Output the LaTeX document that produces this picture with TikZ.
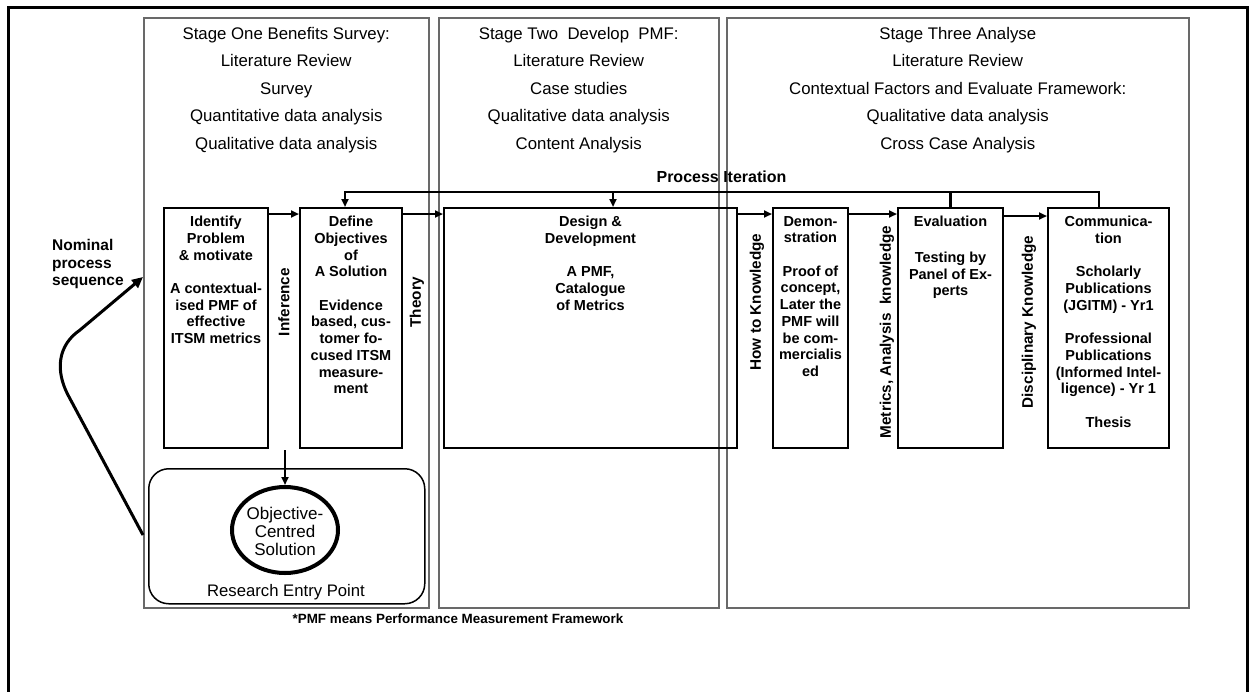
\documentclass[tikz,border=0pt]{standalone}
\usepackage{fontspec}
\setmainfont{Liberation Sans}
\usetikzlibrary{arrows.meta,shapes.geometric}
\definecolor{stagegrey}{RGB}{105,105,105}
\begin{document}
\begin{tikzpicture}[x=1pt,y=-1pt,
  stagebox/.style={draw=stagegrey, line width=1.5pt, inner sep=0pt, anchor=north west},
  procbox/.style={draw=black, line width=2pt, inner sep=0pt, anchor=north west, minimum height=240pt},
  boxtext/.style={font=\bfseries\fontsize{14.5}{16.7}\selectfont, align=center, anchor=north, inner sep=0pt},
  headtext/.style={font=\fontsize{16.8}{27.5}\selectfont, align=center, anchor=north, inner sep=0pt},
  sidelabel/.style={font=\bfseries\fontsize{15.3}{17}\selectfont, rotate=90, inner sep=0pt},
  flow/.style={-{Triangle[length=8pt,width=7pt]}, line width=2.2pt},
]
\useasboundingbox (0,0) rectangle (1250,691);
\fill[white] (0,0) rectangle (1250,691);
% outer frame (bottom edge lies outside the picture)
\draw[line width=3pt] (8,700) -- (8,7) -- (1247,7) -- (1247,700);

% stage boxes
\node[stagebox, minimum width=285pt, minimum height=590pt] (stage1) at (143,17) {};
\node[stagebox, minimum width=280pt, minimum height=590pt] (stage2) at (438,17) {};
\node[stagebox, minimum width=462pt, minimum height=590pt] (stage3) at (726,17) {};

\node[headtext] (stage1T) at ([yshift=-9.7pt]stage1.north) {Stage One Benefits Survey:\\Literature Review\\Survey\\Quantitative data analysis\\Qualitative data analysis};
\node[headtext] (stage2T) at ([yshift=-9.7pt]stage2.north) {Stage Two\ \ Develop\ \ PMF:\\Literature Review\\Case studies\\Qualitative data analysis\\Content Analysis};
\node[headtext] (stage3T) at ([yshift=-9.7pt]stage3.north) {Stage Three Analyse\\Literature Review\\Contextual Factors and Evaluate Framework:\\Qualitative data analysis\\Cross Case Analysis};

% process boxes
\node[procbox, minimum width=104pt] (ident) at (163,207) {};
\node[procbox, minimum width=102pt] (define) at (299,207) {};
\node[procbox, minimum width=293pt] (design) at (443,207) {};
\node[procbox, minimum width=75pt] (demo) at (772,207) {};
\node[procbox, minimum width=105pt] (eval) at (897,207) {};
\node[procbox, minimum width=121pt] (comm) at (1047,207) {};

\node[boxtext] (identT) at ([yshift=-9pt]ident.north) {Identify\\Problem\\\& motivate\\[16.7pt]A contextual-\\ised PMF of\\effective\\ITSM metrics};
\node[boxtext] (defineT) at ([yshift=-9pt]define.north) {Define\\Objectives\\of\\A Solution\\[16.7pt]Evidence\\based, cus-\\tomer fo-\\cused ITSM\\measure-\\ment};
\node[boxtext] (designT) at ([yshift=-9pt]design.north) {Design \&\\Development\\[16.7pt]A PMF,\\Catalogue\\of Metrics};
\node[boxtext] (demoT) at ([yshift=-9pt]demo.north) {Demon-\\stration\\[16.7pt]Proof of\\concept,\\Later the\\PMF will\\be com-\\mercialis\\ed};
\node[boxtext] (evalT) at ([yshift=-9pt]eval.north) {Evaluation\\[19pt]Testing by\\Panel of Ex-\\perts};
\node[boxtext] (commT) at ([yshift=-9pt]comm.north) {Communica-\\tion\\[16.7pt]Scholarly\\Publications\\(JGITM) - Yr1\\[16.7pt]Professional\\Publications\\(Informed Intel-\\ligence) - Yr 1\\[16.7pt]Thesis};

% side labels
\node[sidelabel] (infer) at (284,302) {Inference};
\node[sidelabel] (theory) at (417,302) {Theory};
\node[sidelabel] (howto) at (757,302) {How to Knowledge};
\node[sidelabel] (metrics) at (887,332) {Metrics, Analysis\ \ knowledge};
\node[sidelabel] (discip) at (1029,322) {Disciplinary Knowledge};

% flow arrows
\draw[flow] ([yshift=-7pt]ident.north east) -- ([yshift=-7pt]define.north west);
\draw[flow] ([yshift=-7pt]define.north east) -- ([yshift=-7pt]design.north west);
\draw[flow] ([yshift=-7pt]design.north east) -- ([yshift=-7pt]demo.north west);
\draw[flow] ([yshift=-7pt]demo.north east) -- ([yshift=-7pt]eval.north west);
\draw[flow] ([yshift=-9pt]eval.north east) -- ([yshift=-9pt]comm.north west);

% process iteration
\coordinate (iterTop) at (700,192);
\node[font=\bfseries\fontsize{16}{18}\selectfont, inner sep=0pt] (iterT) at (721.5,177) {Process Iteration};
\draw[flow] ([xshift=52pt]comm.north west) |- (iterTop) -| ([xshift=46pt]define.north west);
\draw[line width=2.2pt] (eval.north) -- (eval.north |- iterTop);
\draw[flow] ([xshift=170pt]design.north west |- iterTop) -- ([xshift=170pt]design.north west);

% research entry point
\node[draw, line width=1.5pt, rounded corners=20pt, inner sep=0pt, anchor=north west, minimum width=276pt, minimum height=135pt] (entry) at (148,468) {};
\node[font=\fontsize{16.7}{18}\selectfont, inner sep=0pt] (entryT) at (286,592) {Research Entry Point};
\node[ellipse, draw, line width=4pt, minimum width=106pt, minimum height=86pt, inner sep=0pt] (ocs) at (285,530) {};
\node[font=\fontsize{17}{18}\selectfont, align=center, inner sep=0pt] (ocsT) at (285,531) {Objective-\\Centred\\Solution};
\coordinate (downStart) at (285,450);
\draw[flow] (downStart) -- (ocs.north);

% nominal process sequence
\node[font=\bfseries\fontsize{15.5}{17.5}\selectfont, align=left, anchor=north west, inner sep=0pt] (nominal) at (52,239.5) {Nominal\\process\\sequence};
\coordinate (curveStart) at (143,535);
\coordinate (curveEnd) at (143,277);
\draw[line width=3pt, -{Triangle[length=11pt,width=10pt]}] (curveStart) -- (68,395) .. controls (55,370) and (58,345) .. (80,330) -- (curveEnd);

% footnote
\node[font=\bfseries\fontsize{13.4}{14}\selectfont, inner sep=0pt] (note) at (458,619) {*PMF means Performance Measurement Framework};
\end{tikzpicture}
\end{document}
